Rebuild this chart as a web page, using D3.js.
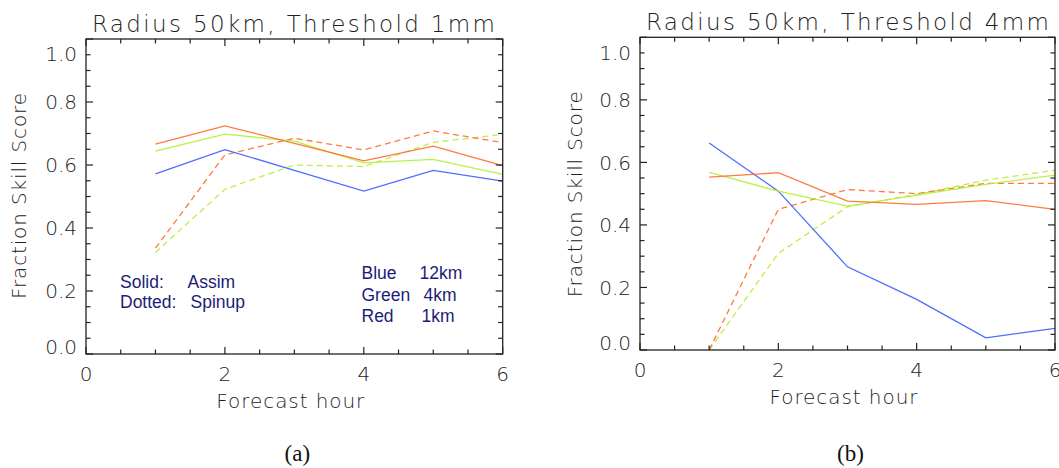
<!DOCTYPE html>
<html>
<head>
<meta charset="utf-8">
<script src="https://cdn.jsdelivr.net/npm/d3@7"></script>
<style>
  body { margin: 0; background: #fff; }
  svg { display: block; }
  .axis-text { font-family: "DejaVu Sans", sans-serif; font-weight: 200; fill: #222; }
  .key { font-family: "Liberation Sans", Arial, sans-serif; fill: #1c1c78; font-size: 17.5px; }
  .cap { font-family: "Liberation Serif", "Times New Roman", serif; font-size: 23px; fill: #111; }
</style>
</head>
<body>
<div class="grafico"></div>
<script>
/* Datos */
const hours = [1, 2, 3, 4, 5, 6];
const xTicks = [0, 2, 4, 6];
const yTicks = [0.0, 0.2, 0.4, 0.6, 0.8, 1.0];

/* Panel (a): Radius 50km, Threshold 1mm */
const aAssim12km = [0.572, 0.649, 0.583, 0.517, 0.583, 0.549];
const aAssim4km  = [0.644, 0.698, 0.676, 0.607, 0.618, 0.570];
const aAssim1km  = [0.666, 0.724, 0.669, 0.613, 0.660, 0.598];
const aSpinup4km = [0.322, 0.523, 0.600, 0.595, 0.672, 0.697];
const aSpinup1km = [0.336, 0.632, 0.685, 0.648, 0.708, 0.671];

/* Panel (b): Radius 50km, Threshold 4mm */
const bAssim12km = [0.662, 0.508, 0.266, 0.162, 0.039, 0.069];
const bAssim4km  = [0.568, 0.508, 0.460, 0.495, 0.530, 0.559];
const bAssim1km  = [0.553, 0.567, 0.476, 0.466, 0.478, 0.450];
const bSpinup4km = [0.000, 0.309, 0.458, 0.497, 0.543, 0.575];
const bSpinup1km = [0.000, 0.450, 0.513, 0.500, 0.533, 0.533];

const colors = { blue: '#3a5cff', green: '#b4ee30', red: '#ff6a2c' };

const W = 1059, H = 468;
const svg = d3.select('.grafico').append('svg').attr('width', W).attr('height', H);

const panel = (opt) => { /* dibuja un panel */
  const { left, top, width, height, title, series, caption, yLabelX } = opt;
  const x = d3.scaleLinear().domain([0, 6]).range([left, left + width]);
  const y = d3.scaleLinear().domain([0, 1]).range([top + height, top]);
  const g = svg.append('g');

  /* líneas */
  const line = d3.line().x((d, i) => x(hours[i])).y(d => y(d));
  series.forEach(s => {
    g.append('path')
      .datum(s.values)
      .attr('d', line)
      .attr('fill', 'none')
      .attr('stroke', s.color)
      .attr('stroke-width', 1.3)
      .attr('stroke-dasharray', s.dashed ? '6,4' : null)
      .attr('opacity', 0.9);
  });

  /* caja */
  g.append('rect')
    .attr('x', left).attr('y', top)
    .attr('width', width).attr('height', height)
    .attr('fill', 'none').attr('stroke', '#222').attr('stroke-width', 1.3);

  /* ticks menores y mayores, hacia adentro */
  const xt = x.ticks(12);
  const yt = y.ticks(20);
  const isMajorX = v => Math.abs(v / 2 - Math.round(v / 2)) < 1e-6;
  const isMajorY = v => Math.abs(v / 0.2 - Math.round(v / 0.2)) < 1e-6;
  xt.forEach(v => {
    const len = isMajorX(v) ? 7 : 4.5;
    g.append('line').attr('x1', x(v)).attr('x2', x(v))
      .attr('y1', top + height).attr('y2', top + height - len)
      .attr('stroke', '#222').attr('stroke-width', 1.2);
    g.append('line').attr('x1', x(v)).attr('x2', x(v))
      .attr('y1', top).attr('y2', top + len)
      .attr('stroke', '#222').attr('stroke-width', 1.2);
  });
  yt.forEach(v => {
    const len = isMajorY(v) ? 7 : 4.5;
    g.append('line').attr('x1', left).attr('x2', left + len)
      .attr('y1', y(v)).attr('y2', y(v))
      .attr('stroke', '#222').attr('stroke-width', 1.2);
    g.append('line').attr('x1', left + width).attr('x2', left + width - len)
      .attr('y1', y(v)).attr('y2', y(v))
      .attr('stroke', '#222').attr('stroke-width', 1.2);
  });

  /* etiquetas de ticks */
  g.selectAll('.xl').data(xTicks).join('text')
    .attr('class', 'axis-text')
    .attr('x', d => x(d))
    .attr('y', top + height + 27)
    .attr('text-anchor', 'middle')
    .attr('font-size', 20)
    .text(d => d);

  g.selectAll('.yl').data(yTicks).join('text')
    .attr('class', 'axis-text')
    .attr('x', left - 9)
    .attr('y', d => y(d) + (d === 1 ? 15 : d === 0 ? -7 : 0))
    .attr('dy', '0.36em')
    .attr('text-anchor', 'end')
    .attr('font-size', 20)
    .text(d => d.toFixed(1));

  /* títulos */
  g.append('text')
    .attr('class', 'axis-text')
    .attr('x', left + 6).attr('y', top - 7)
    .attr('font-size', 23)
    .attr('textLength', 403).attr('lengthAdjust', 'spacing')
    .text(title);

  g.append('text')
    .attr('class', 'axis-text')
    .attr('x', x(3) - 4).attr('y', top + height + 54)
    .attr('text-anchor', 'middle')
    .attr('font-size', 20)
    .attr('textLength', 148).attr('lengthAdjust', 'spacing')
    .text('Forecast hour');

  g.append('text')
    .attr('class', 'axis-text')
    .attr('transform', `translate(${yLabelX},${top + 157}) rotate(-90)`)
    .attr('text-anchor', 'middle')
    .attr('font-size', 20)
    .attr('textLength', 206).attr('lengthAdjust', 'spacing')
    .text('Fraction Skill Score');

  svg.append('text')
    .attr('class', 'cap')
    .attr('x', x(3) + 3).attr('y', 461)
    .attr('text-anchor', 'middle')
    .text(caption);

  return { x, y, g };
};

const pa = panel({
  left: 86, top: 39, width: 416.7, height: 315, yLabelX: 26,
  title: 'Radius 50km, Threshold 1mm', caption: '(a)',
  series: [
    { values: aSpinup4km, color: colors.green, dashed: true },
    { values: aSpinup1km, color: colors.red, dashed: true },
    { values: aAssim12km, color: colors.blue },
    { values: aAssim4km, color: colors.green },
    { values: aAssim1km, color: colors.red }
  ]
});

panel({
  left: 640, top: 37.3, width: 415, height: 312.7, yLabelX: 582,
  title: 'Radius 50km, Threshold 4mm', caption: '(b)',
  series: [
    { values: bSpinup4km, color: colors.green, dashed: true },
    { values: bSpinup1km, color: colors.red, dashed: true },
    { values: bAssim12km, color: colors.blue },
    { values: bAssim4km, color: colors.green },
    { values: bAssim1km, color: colors.red }
  ]
});

/* Leyenda en texto (panel a) */
const keyLeft = [['Solid:', 'Assim'], ['Dotted:', 'Spinup']];
const keyRight = [['Blue', '12km'], ['Green', '4km'], ['Red', '1km']];

keyLeft.forEach((k, i) => {
  pa.g.append('text').attr('class', 'key').attr('x', 120).attr('y', 287.5 + i * 20.5).text(k[0]);
  pa.g.append('text').attr('class', 'key').attr('x', i === 0 ? 187.5 : 190.5).attr('y', 287.5 + i * 20.5).text(k[1]);
});
keyRight.forEach((k, i) => {
  pa.g.append('text').attr('class', 'key').attr('x', 361.5).attr('y', 279 + i * 21.5).text(k[0]);
  pa.g.append('text').attr('class', 'key').attr('x', i === 0 ? 419.5 : i === 1 ? 423.5 : 421.5).attr('y', 279 + i * 21.5).text(k[1]);
});
</script>
</body>
</html>
